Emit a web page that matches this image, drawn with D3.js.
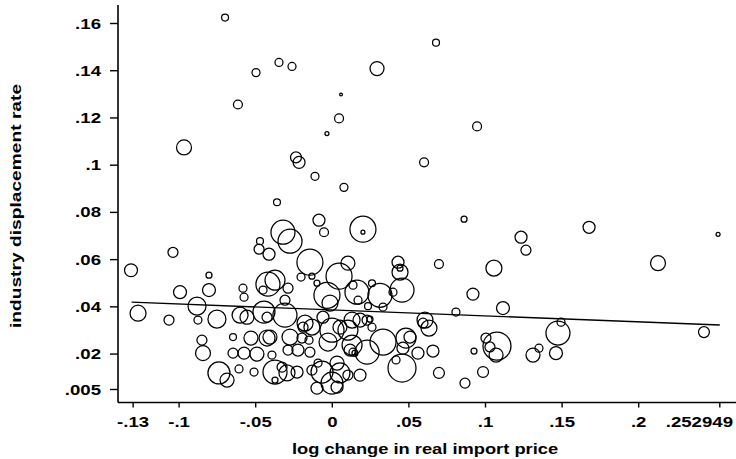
<!DOCTYPE html>
<html>
<head>
<meta charset="utf-8">
<script src="https://cdn.jsdelivr.net/npm/d3@7"></script>
<style>
  body { margin: 0; background: #fff; }
  text { font-family: "Liberation Sans", Arial, sans-serif; font-weight: bold; fill: #000; }
</style>
</head>
<body>
<div id="chart"></div>
<script>
// Log change in real import price (x), industry displacement rate (y), marker weight
var priceChange = [
  -0.0700, 0.0677, 0.0292, -0.0348, -0.0263, -0.0498, 0.0057, -0.0616, 0.0044, -0.0035,
  0.0945, -0.0968, -0.0237, -0.0217, 0.0599, -0.0113, 0.0076, -0.0361, 0.1676, 0.1232,
  0.1264, 0.1055, 0.2126, 0.2518, 0.1114, 0.1473, 0.1493, 0.1075, 0.1003, 0.1029,
  0.1069, 0.1310, 0.1349, 0.1460, 0.0984, 0.2426, 0.0860, 0.0696, 0.0918, 0.0807,
  0.0925, 0.0866, 0.0696, 0.0657, 0.0455, 0.0416, 0.0331, 0.0481, 0.0507, 0.0559,
  0.0605, 0.0631, 0.0592, 0.0455, 0.0429, 0.0442, 0.0442, 0.0311, 0.0396, 0.0161,
  0.0102, 0.0044, 0.0259, 0.0331, 0.0233, 0.0259, 0.0246, 0.0200, 0.0200, -0.1314,
  -0.1040, -0.1268, -0.1066, -0.0994, -0.0805, -0.0805, -0.0883, -0.0877, -0.0753, -0.0851,
  -0.0844, -0.0740, -0.0687, -0.0609, -0.0648, -0.0648, -0.0583, -0.0576, -0.0602, -0.0557,
  -0.0531, -0.0576, -0.0492, -0.0511, -0.0472, -0.0478, -0.0413, -0.0322, -0.0276, -0.0087,
  -0.0054, -0.0146, -0.0420, -0.0374, -0.0452, -0.0289, -0.0309, -0.0204, -0.0133, -0.0100,
  -0.0035, -0.0015, 0.0135, 0.0168, -0.0446, -0.0426, -0.0309, -0.0178, -0.0133, -0.0191,
  -0.0061, -0.0002, -0.0028, 0.0050, 0.0102, 0.0129, 0.0181, 0.0227, 0.0129, 0.0116,
  0.0135, 0.0148, 0.0227, 0.0461, -0.0426, -0.0407, -0.0276, -0.0198, -0.0152, -0.0394,
  -0.0289, -0.0224, -0.0146, -0.0374, -0.0328, -0.0296, -0.0230, -0.0374, -0.0133, -0.0067,
  -0.0093, 0.0031, 0.0050, 0.0181, 0.0102, -0.0100, -0.0002, 0.0031
];
var displacement = [
  0.1625, 0.1519, 0.1409, 0.1435, 0.1418, 0.1392, 0.1299, 0.1257, 0.1198, 0.1134,
  0.1164, 0.1075, 0.1033, 0.1012, 0.1012, 0.0953, 0.0906, 0.0843, 0.0737, 0.0695,
  0.0640, 0.0564, 0.0585, 0.0707, 0.0395, 0.0289, 0.0335, 0.0234, 0.0268, 0.0230,
  0.0196, 0.0196, 0.0225, 0.0204, 0.0124, 0.0293, 0.0771, 0.0581, 0.0454, 0.0378,
  0.0213, 0.0077, 0.0120, 0.0213, 0.0141, 0.0175, 0.0251, 0.0268, 0.0272, 0.0204,
  0.0344, 0.0310, 0.0331, 0.0471, 0.0589, 0.0547, 0.0564, 0.0449, 0.0462, 0.0462,
  0.0585, 0.0530, 0.0500, 0.0399, 0.0403, 0.0314, 0.0348, 0.0729, 0.0716, 0.0555,
  0.0631, 0.0373, 0.0344, 0.0462, 0.0534, 0.0471, 0.0403, 0.0344, 0.0348, 0.0259,
  0.0204, 0.0120, 0.0090, 0.0137, 0.0272, 0.0204, 0.0479, 0.0441, 0.0365, 0.0356,
  0.0268, 0.0204, 0.0200, 0.0124, 0.0678, 0.0644, 0.0623, 0.0716, 0.0678, 0.0767,
  0.0716, 0.0589, 0.0496, 0.0513, 0.0471, 0.0479, 0.0428, 0.0526, 0.0530, 0.0500,
  0.0449, 0.0416, 0.0492, 0.0428, 0.0378, 0.0356, 0.0365, 0.0331, 0.0314, 0.0314,
  0.0356, 0.0301, 0.0251, 0.0314, 0.0301, 0.0344, 0.0344, 0.0344, 0.0238, 0.0217,
  0.0208, 0.0204, 0.0208, 0.0225, 0.0268, 0.0272, 0.0272, 0.0268, 0.0259, 0.0196,
  0.0217, 0.0217, 0.0208, 0.0124, 0.0145, 0.0120, 0.0124, 0.0090, 0.0132, 0.0124,
  0.0162, 0.0162, 0.0120, 0.0111, 0.0111, 0.0056, 0.0077, 0.0060
];
var weight = [
  12, 12, 49, 16, 16, 16, 2, 20, 20, 4,
  20, 56, 30, 36, 20, 16, 16, 12, 36, 36,
  25, 64, 56, 4, 42, 144, 16, 196, 25, 25,
  49, 49, 16, 42, 30, 30, 9, 20, 36, 16,
  9, 25, 30, 36, 196, 16, 169, 100, 36, 36,
  64, 64, 25, 144, 36, 64, 9, 144, 16, 144,
  49, 169, 12, 16, 12, 16, 9, 169, 4, 42,
  25, 64, 25, 42, 9, 42, 81, 16, 81, 25,
  56, 121, 49, 16, 12, 25, 16, 16, 64, 49,
  49, 36, 49, 16, 12, 25, 36, 144, 144, 36,
  20, 169, 144, 100, 16, 25, 25, 16, 9, 9,
  169, 64, 16, 16, 121, 25, 144, 64, 64, 25,
  36, 144, 81, 49, 100, 64, 49, 25, 100, 36,
  16, 9, 144, 36, 64, 49, 64, 25, 16, 16,
  25, 36, 25, 144, 25, 64, 36, 9, 25, 121,
  16, 49, 100, 36, 25, 36, 121, 36
];

// Fitted line end points
var fitX = [-0.131, 0.252949];
var fitY = [0.0420, 0.0323];

var xTicks = [-0.13, -0.1, -0.05, 0, 0.05, 0.1, 0.15, 0.2, 0.252949];
var xTickLabels = ["-.13", "-.1", "-.05", "0", ".05", ".1", ".15", ".2", ".252949"];
var yTicks = [0.005, 0.02, 0.04, 0.06, 0.08, 0.1, 0.12, 0.14, 0.16];
var yTickLabels = [".005", ".02", ".04", ".06", ".08", ".1", ".12", ".14", ".16"];

var W = 736, H = 459;
var axisX = 118, axisY = 402.5;
var stretch = 1.33; // the lettering in the picture is wide

var svg = d3.select("#chart").append("svg")
    .attr("width", W)
    .attr("height", H);

var x = d3.scaleLinear().domain([0, 0.2]).range([332.3, 638.7]);
var y = d3.scaleLinear().domain([0, 0.16]).range([401.3, 23.5]);
var r = d3.scaleSqrt().domain([0, 196]).range([0, 14]);

var points = priceChange.map(function (d, i) {
    return { x: d, y: displacement[i], w: weight[i] };
});

// Hollow weighted markers
svg.append("g")
    .selectAll("circle")
    .data(points)
    .enter().append("circle")
    .attr("cx", function (d) { return x(d.x); })
    .attr("cy", function (d) { return y(d.y); })
    .attr("r", function (d) { return Math.max(1.2, r(d.w)); })
    .attr("fill", "none")
    .attr("stroke", "#000")
    .attr("stroke-width", 1.25);

// Fit line
svg.append("line")
    .attr("x1", x(fitX[0])).attr("y1", y(fitY[0]))
    .attr("x2", x(fitX[1])).attr("y2", y(fitY[1]))
    .attr("stroke", "#000")
    .attr("stroke-width", 1.4);

// Y axis
var yAxis = svg.append("g");
yAxis.append("line")
    .attr("x1", axisX).attr("x2", axisX)
    .attr("y1", 5).attr("y2", axisY)
    .attr("stroke", "#000").attr("stroke-width", 1.6);
yAxis.selectAll(".ytick")
    .data(yTicks)
    .enter().append("line")
    .attr("x1", axisX - 8).attr("x2", axisX)
    .attr("y1", function (d) { return y(d); })
    .attr("y2", function (d) { return y(d); })
    .attr("stroke", "#000").attr("stroke-width", 1.4);
yAxis.selectAll(".ylab")
    .data(yTicks)
    .enter().append("text")
    .attr("transform", function (d) {
        return "translate(" + (axisX - 17) + "," + y(d) + ") scale(" + stretch + ",1)";
    })
    .attr("dy", "0.36em")
    .attr("text-anchor", "end")
    .style("font-size", "14px")
    .text(function (d, i) { return yTickLabels[i]; });

// X axis
var xAxis = svg.append("g");
xAxis.append("line")
    .attr("x1", axisX).attr("x2", W)
    .attr("y1", axisY).attr("y2", axisY)
    .attr("stroke", "#000").attr("stroke-width", 1.6);
xAxis.selectAll(".xtick")
    .data(xTicks)
    .enter().append("line")
    .attr("x1", function (d) { return x(d); })
    .attr("x2", function (d) { return x(d); })
    .attr("y1", axisY).attr("y2", axisY + 5)
    .attr("stroke", "#000").attr("stroke-width", 1.4);
xAxis.selectAll(".xlab")
    .data(xTicks)
    .enter().append("text")
    .attr("transform", function (d, i) {
        // last label is pushed in so it stays inside the picture
        var px = i === xTicks.length - 1 ? W - 3 : x(d);
        return "translate(" + px + ",427) scale(" + stretch + ",1)";
    })
    .attr("text-anchor", function (d, i) { return i === xTicks.length - 1 ? "end" : "middle"; })
    .style("font-size", "14px")
    .text(function (d, i) { return xTickLabels[i]; });

// Axis titles
svg.append("text")
    .attr("transform", "translate(425,454) scale(1.22,1)")
    .attr("text-anchor", "middle")
    .style("font-size", "15px")
    .text("log change in real import price");

svg.append("text")
    .attr("transform", "translate(21,206) rotate(-90) scale(1.28,1)")
    .attr("text-anchor", "middle")
    .style("font-size", "15px")
    .text("industry displacement rate");
</script>
</body>
</html>
